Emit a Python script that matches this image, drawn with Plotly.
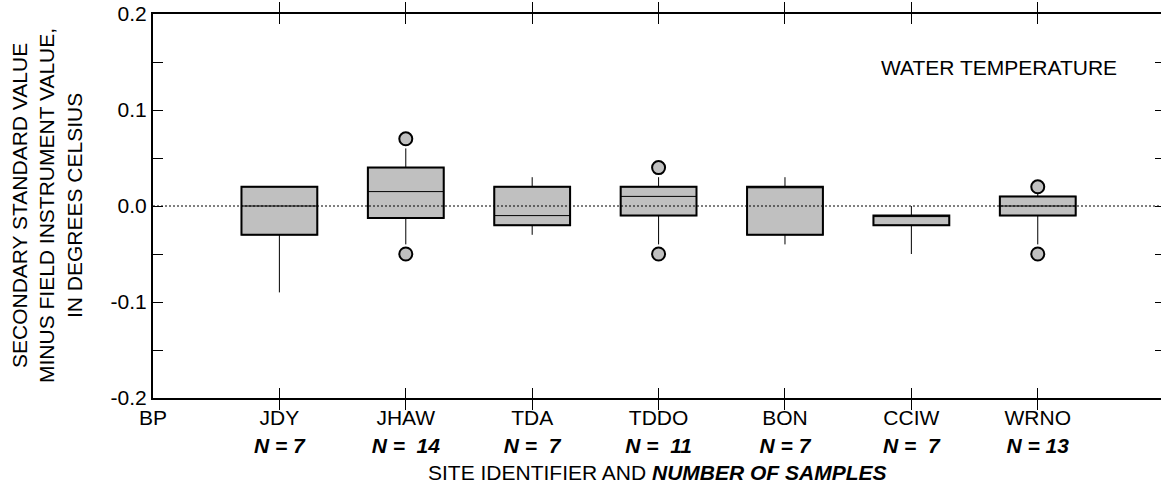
import plotly.graph_objects as go

# ---- data ----
sites = ["BP", "JDY", "JHAW", "TDA", "TDDO", "BON", "CCIW", "WRNO"]
n_samples = [None, 7, 14, 7, 11, 7, 7, 13]
n_labels = [None, "N = 7", "N =\u00a0 14", "N =\u00a0 7", "N =\u00a0 11", "N = 7", "N =\u00a0 7", "N = 13"]

box_sites = ["JDY", "JHAW", "TDA", "TDDO", "BON", "CCIW", "WRNO"]
q1 = [-0.03, -0.0125, -0.02, -0.01, -0.03, -0.02, -0.01]
median = [0.0, 0.015, -0.01, 0.01, 0.02, -0.01, 0.0]
q3 = [0.02, 0.04, 0.02, 0.02, 0.02, -0.01, 0.01]
lower_whisker = [-0.09, -0.04, -0.03, -0.04, -0.04, -0.05, -0.04]
upper_whisker = [0.02, 0.06, 0.03, 0.03, 0.03, 0.0, 0.015]

outlier_sites = ["JHAW", "JHAW", "TDDO", "TDDO", "WRNO", "WRNO"]
outlier_values = [0.07, -0.05, 0.04, -0.05, 0.02, -0.05]

y_ticks = [-0.2, -0.15, -0.1, -0.05, 0.0, 0.05, 0.1, 0.15, 0.2]
y_ticktext = ["-0.2", "", "-0.1", "", "0.0", "", "0.1", "", "0.2"]

panel_label = "WATER TEMPERATURE"
y_title = "SECONDARY STANDARD VALUE<br>MINUS FIELD INSTRUMENT VALUE,<br>IN DEGREES CELSIUS"
x_title = "SITE IDENTIFIER AND <b><i>NUMBER OF SAMPLES</i></b>"

# ---- derived ----
pos = {s: i for i, s in enumerate(sites)}
box_x = [pos[s] for s in box_sites]
out_x = [pos[s] for s in outlier_sites]
ticktext = [s if n is None else f"{s}<br><b><i>{n}</i></b>" for s, n in zip(sites, n_labels)]

FONT = "Liberation Sans, Arial, sans-serif"
GRAY = "#c0c0c0"
BOXW = 0.6

fig = go.Figure()

# filled boxes with heavier outline
fig.add_trace(go.Bar(
    x=box_x, base=q1, y=[b - a for a, b in zip(q1, q3)], width=BOXW,
    marker=dict(color=GRAY, line=dict(color="black", width=2)),
    showlegend=False, hoverinfo="skip"))

# medians and whiskers
fig.add_trace(go.Box(
    x=box_x, q1=q1, median=median, q3=q3,
    lowerfence=lower_whisker, upperfence=upper_whisker,
    width=BOXW, whiskerwidth=0, boxpoints=False,
    fillcolor="rgba(0,0,0,0)", line=dict(color="black", width=1),
    showlegend=False))

# outliers
fig.add_trace(go.Scatter(
    x=out_x, y=outlier_values, mode="markers",
    marker=dict(symbol="circle", size=13, color=GRAY,
                line=dict(color="black", width=2)),
    showlegend=False))

fig.add_shape(type="line", xref="paper", x0=0, x1=1, yref="y", y0=0, y1=0,
              line=dict(color="black", width=1, dash="2px,2px"), layer="above")

fig.update_layout(
    width=1161, height=486,
    margin=dict(l=153, r=0, t=14, b=88),
    paper_bgcolor="white", plot_bgcolor="white",
    font=dict(family=FONT, size=21, color="black"),
    barmode="overlay",
    xaxis=dict(range=[0, 7.975], tickvals=list(range(len(sites))), ticktext=ticktext,
               ticks="inside", ticklen=10, tickwidth=1, tickcolor="black",
               showline=True, linewidth=2, linecolor="black", mirror="allticks",
               showgrid=False, zeroline=False, tickfont=dict(size=21),
               automargin=False),
    yaxis=dict(range=[-0.2, 0.2], tickvals=y_ticks, ticktext=y_ticktext,
               ticks="inside", ticklen=10, tickwidth=1, tickcolor="black",
               showline=True, linewidth=2, linecolor="black",
               showgrid=False, zeroline=False, tickfont=dict(size=21),
               automargin=False),
    yaxis2=dict(range=[-0.2, 0.2], overlaying="y", side="right", anchor="x",
                tickvals=y_ticks, showticklabels=False,
                ticks="inside", ticklen=6, tickwidth=1, tickcolor="black",
                showline=False, showgrid=False, zeroline=False),
    annotations=[
        dict(text=panel_label, xref="paper", yref="paper",
             x=(1119 - 153.5) / 1007.5, y=(398 - 67) / 384,
             xanchor="right", yanchor="middle", showarrow=False,
             font=dict(size=21)),
        dict(text=y_title, xref="paper", yref="paper", x=0, y=0.5,
             xshift=-106, xanchor="center", yanchor="middle", textangle=-90,
             showarrow=False, font=dict(size=21)),
        dict(text=x_title, xref="paper", yref="paper", x=0.5, y=0,
             yshift=-74, xanchor="center", yanchor="middle",
             showarrow=False, font=dict(size=21)),
    ],
)

# keep the right-hand tick axis drawn
fig.add_trace(go.Scatter(x=[None], y=[None], yaxis="y2", showlegend=False, hoverinfo="skip"))

fig.write_html("out.html",
               config={"displayModeBar": False},
               post_script="document.body.style.margin='0';document.body.style.overflow='hidden';")
